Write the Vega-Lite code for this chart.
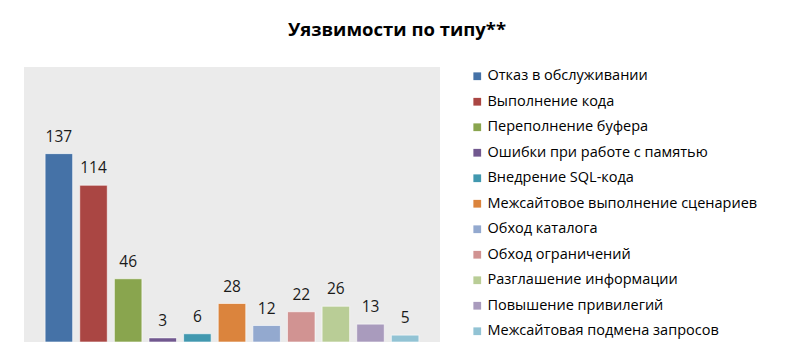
{
  "$schema": "https://vega.github.io/schema/vega-lite/v6.json",
  "autosize": "none",
  "width": 416,
  "height": 275,
  "padding": {"left": 24, "top": 67, "right": 356, "bottom": 18},
  "background": "white",
  "title": {
    "text": "Уязвимости по типу**",
    "font": "Open Sans",
    "fontSize": 18.5,
    "fontWeight": "bold",
    "color": "#000000",
    "anchor": "middle",
    "dx": 165,
    "offset": 28
  },
  "data": {
    "values": [
      {"type": "Отказ в обслуживании", "count": 137},
      {"type": "Выполнение кода", "count": 114},
      {"type": "Переполнение буфера", "count": 46},
      {"type": "Ошибки при работе с памятью", "count": 3},
      {"type": "Внедрение SQL-кода", "count": 6},
      {"type": "Межсайтовое выполнение сценариев", "count": 28},
      {"type": "Обход каталога", "count": 12},
      {"type": "Обход ограничений", "count": 22},
      {"type": "Разглашение информации", "count": 26},
      {"type": "Повышение привилегий", "count": 13},
      {"type": "Межсайтовая подмена запросов", "count": 5}
    ]
  },
  "encoding": {
    "x": {
      "field": "type",
      "type": "nominal",
      "sort": null,
      "axis": null,
      "scale": {"paddingInner": 0.205, "paddingOuter": 0.61}
    },
    "y": {
      "field": "count",
      "type": "quantitative",
      "axis": null,
      "scale": {"domain": [0, 200], "nice": false}
    }
  },
  "layer": [
    {
      "mark": {"type": "bar", "stroke": "#ffffff", "strokeWidth": 1, "strokeOpacity": 0.6},
      "encoding": {
        "color": {
          "field": "type",
          "type": "nominal",
          "sort": null,
          "scale": {
            "domain": ["Отказ в обслуживании", "Выполнение кода", "Переполнение буфера", "Ошибки при работе с памятью", "Внедрение SQL-кода", "Межсайтовое выполнение сценариев", "Обход каталога", "Обход ограничений", "Разглашение информации", "Повышение привилегий", "Межсайтовая подмена запросов"],
            "range": ["#4572A7", "#AA4643", "#89A54E", "#71588F", "#4198AF", "#DB843D", "#93A9CF", "#D19392", "#B9CD96", "#A99BBD", "#92C3D4"]
          },
          "legend": {
            "title": null,
            "orient": "none",
            "legendX": 446,
            "legendY": 2,
            "padding": 0,
            "symbolType": "square",
            "symbolSize": 60,
            "symbolStrokeWidth": 0,
            "labelFont": "Open Sans",
            "labelFontSize": 14.5,
            "labelColor": "#000000",
            "labelOffset": 3,
            "rowPadding": 10.5,
            "labelLimit": 400
          }
        }
      }
    },
    {
      "mark": {"type": "text", "dy": -9, "baseline": "bottom", "font": "Open Sans", "fontSize": 15.5, "color": "#1a1a1a"},
      "encoding": {"text": {"field": "count", "type": "quantitative"}}
    }
  ],
  "config": {
    "view": {"fill": "#EBEBEB", "stroke": null}
  }
}
